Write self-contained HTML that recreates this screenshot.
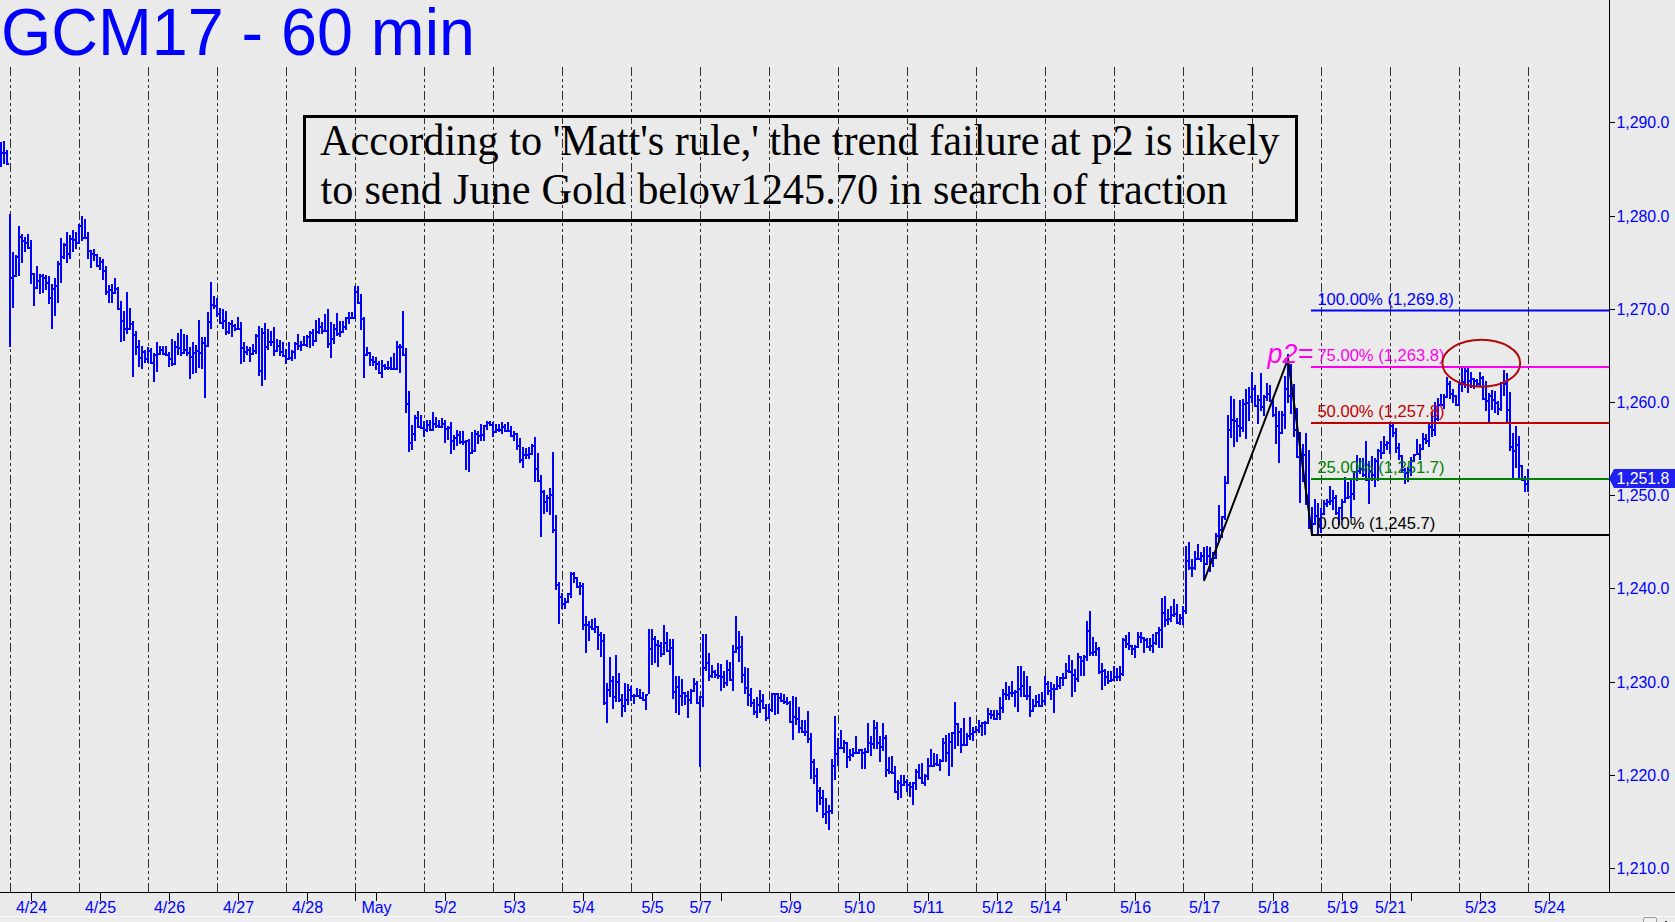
<!DOCTYPE html>
<html><head><meta charset="utf-8"><title>GCM17 - 60 min</title>
<style>
html,body{margin:0;padding:0;background:#eaeaea;}
body{width:1675px;height:922px;overflow:hidden;position:relative;font-family:"Liberation Sans",sans-serif;}
svg{position:absolute;left:0;top:0;display:block}
#title{position:absolute;left:0.5px;top:-5.2px;font-size:65.8px;line-height:74px;transform:scaleX(0.982);transform-origin:0 0;color:#0000ff;white-space:nowrap;letter-spacing:0px}
#note{position:absolute;left:303px;top:115px;width:989px;height:101px;border:3px solid #000;font-family:"Liberation Serif",serif;font-size:45.2px;line-height:49.3px;color:#000;white-space:nowrap}
#note div{position:absolute;left:13.5px;top:-2px;transform:scaleX(0.9364);transform-origin:0 0}
#strip{position:absolute;left:0;top:916px;width:1675px;height:6px;background:#ededed;border-top:1px solid #f8f8f8;box-sizing:border-box}
#sb{position:absolute;left:1643px;top:917px;width:14px;height:8px;border:1px solid #9a9a9a;border-radius:2px;background:#f2f2f2;box-sizing:border-box}
</style></head><body>
<svg width="1675" height="922" viewBox="0 0 1675 922" font-family="Liberation Sans, sans-serif" font-size="16.6">
<path d="M10.5 67V892M79.5 67V892M148.5 67V892M217.5 67V892M286.5 67V892M355.5 67V892M424.5 67V892M493.5 67V892M562.5 67V892M631.5 67V892M700.5 67V892M769.5 67V892M838.5 67V892M907.5 67V892M976.5 67V892M1045.5 67V892M1114.5 67V892M1183.5 67V892M1252.5 67V892M1321.5 67V892M1390.5 67V892M1459.5 67V892M1528.5 67V892" stroke="#303030" stroke-width="1" stroke-dasharray="9 3 3 3 3 3" fill="none" shape-rendering="crispEdges"/>
<path d="M0 142h2V167h-2zM2 152h1v2h-1zM3 141h2V164h-2zM5 152h1v2h-1zM6 150h2V165h-2zM8 163h1v2h-1zM9 214h2V347h-2zM11 277h1v2h-1zM12 252h2V308h-2zM14 275h1v2h-1zM15 255h2V277h-2zM17 256h1v2h-1zM18 226h2V276h-2zM20 236h1v2h-1zM21 234h2V263h-2zM23 240h1v2h-1zM24 237h2V252h-2zM26 242h1v2h-1zM27 234h2V249h-2zM29 247h1v2h-1zM30 240h2V284h-2zM32 273h1v2h-1zM33 273h2V306h-2zM35 287h1v2h-1zM36 266h2V289h-2zM38 280h1v2h-1zM39 274h2V294h-2zM41 275h1v2h-1zM42 274h2V293h-2zM44 277h1v2h-1zM45 275h2V290h-2zM47 282h1v2h-1zM48 276h2V304h-2zM50 297h1v2h-1zM51 284h2V329h-2zM53 288h1v2h-1zM54 278h2V316h-2zM56 285h1v2h-1zM57 261h2V303h-2zM59 263h1v2h-1zM60 238h2V283h-2zM62 256h1v2h-1zM63 243h2V259h-2zM65 244h1v2h-1zM66 232h2V263h-2zM68 253h1v2h-1zM69 235h2V259h-2zM71 238h1v2h-1zM72 230h2V252h-2zM74 239h1v2h-1zM75 232h2V249h-2zM77 242h1v2h-1zM78 224h2V244h-2zM80 225h1v2h-1zM81 216h2V241h-2zM83 237h1v2h-1zM84 219h2V239h-2zM86 237h1v2h-1zM87 232h2V259h-2zM89 250h1v2h-1zM90 250h2V268h-2zM92 253h1v2h-1zM93 249h2V261h-2zM95 254h1v2h-1zM96 254h2V267h-2zM98 265h1v2h-1zM99 257h2V270h-2zM101 261h1v2h-1zM102 259h2V280h-2zM104 270h1v2h-1zM105 266h2V295h-2zM107 291h1v2h-1zM108 285h2V303h-2zM110 289h1v2h-1zM111 284h2V303h-2zM113 292h1v2h-1zM114 278h2V294h-2zM116 288h1v2h-1zM117 287h2V310h-2zM119 308h1v2h-1zM120 301h2V342h-2zM122 320h1v2h-1zM123 311h2V341h-2zM125 328h1v2h-1zM126 292h2V334h-2zM128 328h1v2h-1zM129 308h2V330h-2zM131 323h1v2h-1zM132 321h2V377h-2zM134 334h1v2h-1zM135 331h2V355h-2zM137 346h1v2h-1zM138 340h2V367h-2zM140 357h1v2h-1zM141 346h2V369h-2zM143 351h1v2h-1zM144 350h2V363h-2zM146 358h1v2h-1zM147 347h2V363h-2zM149 350h1v2h-1zM150 348h2V364h-2zM152 362h1v2h-1zM153 353h2V382h-2zM155 354h1v2h-1zM156 342h2V372h-2zM158 353h1v2h-1zM159 346h2V355h-2zM161 349h1v2h-1zM162 346h2V355h-2zM164 353h1v2h-1zM165 346h2V356h-2zM167 354h1v2h-1zM168 352h2V367h-2zM170 358h1v2h-1zM171 339h2V366h-2zM173 363h1v2h-1zM174 341h2V365h-2zM176 346h1v2h-1zM177 333h2V355h-2zM179 347h1v2h-1zM180 329h2V356h-2zM182 352h1v2h-1zM183 334h2V354h-2zM185 349h1v2h-1zM186 335h2V356h-2zM188 352h1v2h-1zM189 347h2V379h-2zM191 356h1v2h-1zM192 342h2V374h-2zM194 352h1v2h-1zM195 345h2V373h-2zM197 350h1v2h-1zM198 320h2V368h-2zM200 352h1v2h-1zM201 337h2V369h-2zM203 342h1v2h-1zM204 337h2V398h-2zM206 345h1v2h-1zM207 312h2V347h-2zM209 321h1v2h-1zM210 282h2V329h-2zM212 304h1v2h-1zM213 296h2V309h-2zM215 305h1v2h-1zM216 298h2V317h-2zM218 313h1v2h-1zM219 308h2V324h-2zM221 322h1v2h-1zM222 309h2V329h-2zM224 320h1v2h-1zM225 311h2V335h-2zM227 331h1v2h-1zM228 322h2V334h-2zM230 323h1v2h-1zM231 320h2V337h-2zM233 325h1v2h-1zM234 324h2V331h-2zM236 328h1v2h-1zM237 317h2V330h-2zM239 328h1v2h-1zM240 322h2V364h-2zM242 347h1v2h-1zM243 342h2V362h-2zM245 351h1v2h-1zM246 346h2V355h-2zM248 349h1v2h-1zM249 347h2V362h-2zM251 353h1v2h-1zM252 344h2V355h-2zM254 350h1v2h-1zM255 334h2V354h-2zM257 335h1v2h-1zM258 326h2V376h-2zM260 370h1v2h-1zM261 328h2V386h-2zM263 332h1v2h-1zM264 323h2V380h-2zM266 346h1v2h-1zM267 329h2V350h-2zM269 341h1v2h-1zM270 331h2V346h-2zM272 341h1v2h-1zM273 327h2V356h-2zM275 350h1v2h-1zM276 339h2V352h-2zM278 345h1v2h-1zM279 340h2V356h-2zM281 351h1v2h-1zM282 342h2V357h-2zM284 355h1v2h-1zM285 349h2V364h-2zM287 358h1v2h-1zM288 342h2V360h-2zM290 357h1v2h-1zM291 350h2V361h-2zM293 351h1v2h-1zM294 342h2V359h-2zM296 343h1v2h-1zM297 334h2V350h-2zM299 345h1v2h-1zM300 341h2V351h-2zM302 344h1v2h-1zM303 336h2V346h-2zM305 344h1v2h-1zM306 335h2V347h-2zM308 336h1v2h-1zM309 331h2V348h-2zM311 332h1v2h-1zM312 329h2V346h-2zM314 340h1v2h-1zM315 320h2V342h-2zM317 331h1v2h-1zM318 318h2V334h-2zM320 326h1v2h-1zM321 322h2V334h-2zM323 330h1v2h-1zM324 314h2V332h-2zM326 330h1v2h-1zM327 309h2V348h-2zM329 343h1v2h-1zM330 322h2V358h-2zM332 338h1v2h-1zM333 324h2V344h-2zM335 328h1v2h-1zM336 313h2V336h-2zM338 333h1v2h-1zM339 321h2V337h-2zM341 331h1v2h-1zM342 321h2V333h-2zM344 326h1v2h-1zM345 317h2V330h-2zM347 317h1v2h-1zM348 312h2V324h-2zM350 317h1v2h-1zM351 312h2V319h-2zM353 317h1v2h-1zM354 286h2V319h-2zM356 291h1v2h-1zM357 286h2V304h-2zM359 302h1v2h-1zM360 294h2V330h-2zM362 318h1v2h-1zM363 317h2V378h-2zM365 354h1v2h-1zM366 347h2V356h-2zM368 352h1v2h-1zM369 352h2V366h-2zM371 359h1v2h-1zM372 356h2V366h-2zM374 361h1v2h-1zM375 357h2V370h-2zM377 363h1v2h-1zM378 361h2V374h-2zM380 372h1v2h-1zM381 360h2V378h-2zM383 365h1v2h-1zM384 364h2V370h-2zM386 367h1v2h-1zM387 361h2V370h-2zM389 367h1v2h-1zM390 357h2V370h-2zM392 368h1v2h-1zM393 353h2V370h-2zM395 368h1v2h-1zM396 341h2V370h-2zM398 346h1v2h-1zM399 344h2V373h-2zM401 346h1v2h-1zM402 311h2V356h-2zM404 354h1v2h-1zM405 348h2V413h-2zM407 403h1v2h-1zM408 391h2V452h-2zM410 442h1v2h-1zM411 425h2V450h-2zM413 433h1v2h-1zM414 415h2V441h-2zM416 417h1v2h-1zM417 411h2V428h-2zM419 426h1v2h-1zM420 415h2V429h-2zM422 427h1v2h-1zM423 421h2V437h-2zM425 429h1v2h-1zM426 420h2V432h-2zM428 424h1v2h-1zM429 420h2V431h-2zM431 429h1v2h-1zM432 412h2V431h-2zM434 423h1v2h-1zM435 417h2V428h-2zM437 425h1v2h-1zM438 420h2V428h-2zM440 426h1v2h-1zM441 418h2V428h-2zM443 423h1v2h-1zM444 420h2V443h-2zM446 428h1v2h-1zM447 426h2V440h-2zM449 427h1v2h-1zM450 422h2V454h-2zM452 440h1v2h-1zM453 435h2V450h-2zM455 437h1v2h-1zM456 430h2V446h-2zM458 434h1v2h-1zM459 431h2V444h-2zM461 441h1v2h-1zM462 431h2V445h-2zM464 441h1v2h-1zM465 440h2V470h-2zM467 440h1v2h-1zM468 439h2V472h-2zM470 452h1v2h-1zM471 432h2V454h-2zM473 450h1v2h-1zM474 430h2V452h-2zM476 433h1v2h-1zM477 431h2V444h-2zM479 435h1v2h-1zM480 424h2V441h-2zM482 434h1v2h-1zM483 425h2V441h-2zM485 425h1v2h-1zM486 421h2V430h-2zM488 422h1v2h-1zM489 421h2V426h-2zM491 424h1v2h-1zM492 422h2V437h-2zM494 431h1v2h-1zM495 424h2V433h-2zM497 429h1v2h-1zM498 424h2V432h-2zM500 429h1v2h-1zM501 422h2V434h-2zM503 426h1v2h-1zM504 424h2V432h-2zM506 430h1v2h-1zM507 422h2V432h-2zM509 430h1v2h-1zM510 426h2V437h-2zM512 435h1v2h-1zM513 431h2V441h-2zM515 433h1v2h-1zM516 433h2V450h-2zM518 445h1v2h-1zM519 438h2V463h-2zM521 459h1v2h-1zM522 447h2V468h-2zM524 454h1v2h-1zM525 448h2V459h-2zM527 454h1v2h-1zM528 447h2V459h-2zM530 453h1v2h-1zM531 444h2V455h-2zM533 445h1v2h-1zM534 437h2V482h-2zM536 468h1v2h-1zM537 453h2V482h-2zM539 480h1v2h-1zM540 475h2V537h-2zM542 491h1v2h-1zM543 490h2V514h-2zM545 501h1v2h-1zM546 495h2V512h-2zM548 497h1v2h-1zM549 488h2V515h-2zM551 494h1v2h-1zM552 452h2V533h-2zM554 529h1v2h-1zM555 515h2V590h-2zM557 584h1v2h-1zM558 582h2V624h-2zM560 596h1v2h-1zM561 593h2V609h-2zM563 603h1v2h-1zM564 598h2V609h-2zM566 601h1v2h-1zM567 593h2V603h-2zM569 593h1v2h-1zM570 572h2V598h-2zM572 573h1v2h-1zM573 572h2V583h-2zM575 577h1v2h-1zM576 577h2V588h-2zM578 586h1v2h-1zM579 582h2V595h-2zM581 585h1v2h-1zM582 583h2V630h-2zM584 624h1v2h-1zM585 616h2V653h-2zM587 624h1v2h-1zM588 621h2V641h-2zM590 626h1v2h-1zM591 619h2V630h-2zM593 628h1v2h-1zM594 618h2V633h-2zM596 626h1v2h-1zM597 626h2V650h-2zM599 634h1v2h-1zM600 632h2V657h-2zM602 640h1v2h-1zM603 634h2V705h-2zM605 702h1v2h-1zM606 683h2V723h-2zM608 689h1v2h-1zM609 657h2V697h-2zM611 680h1v2h-1zM612 676h2V709h-2zM614 696h1v2h-1zM615 655h2V702h-2zM617 681h1v2h-1zM618 673h2V702h-2zM620 699h1v2h-1zM621 694h2V717h-2zM623 705h1v2h-1zM624 683h2V712h-2zM626 699h1v2h-1zM627 684h2V705h-2zM629 689h1v2h-1zM630 686h2V701h-2zM632 695h1v2h-1zM633 694h2V704h-2zM635 695h1v2h-1zM636 688h2V697h-2zM638 695h1v2h-1zM639 689h2V699h-2zM641 697h1v2h-1zM642 692h2V701h-2zM644 699h1v2h-1zM645 694h2V710h-2zM647 694h1v2h-1zM648 629h2V694h-2zM650 648h1v2h-1zM651 629h2V665h-2zM653 638h1v2h-1zM654 636h2V663h-2zM656 644h1v2h-1zM657 640h2V667h-2zM659 645h1v2h-1zM660 642h2V657h-2zM662 653h1v2h-1zM663 625h2V655h-2zM665 642h1v2h-1zM666 632h2V652h-2zM668 650h1v2h-1zM669 639h2V665h-2zM671 647h1v2h-1zM672 639h2V699h-2zM674 691h1v2h-1zM675 676h2V713h-2zM677 686h1v2h-1zM678 676h2V715h-2zM680 695h1v2h-1zM681 679h2V706h-2zM683 692h1v2h-1zM684 692h2V705h-2zM686 695h1v2h-1zM687 691h2V718h-2zM689 699h1v2h-1zM690 689h2V704h-2zM692 690h1v2h-1zM693 678h2V692h-2zM695 683h1v2h-1zM696 681h2V704h-2zM698 702h1v2h-1zM699 696h2V767h-2zM701 696h1v2h-1zM702 634h2V707h-2zM704 667h1v2h-1zM705 634h2V671h-2zM707 662h1v2h-1zM708 653h2V681h-2zM710 675h1v2h-1zM711 665h2V678h-2zM713 671h1v2h-1zM714 670h2V678h-2zM716 674h1v2h-1zM717 663h2V679h-2zM719 675h1v2h-1zM720 664h2V691h-2zM722 676h1v2h-1zM723 671h2V688h-2zM725 682h1v2h-1zM726 660h2V686h-2zM728 669h1v2h-1zM729 662h2V681h-2zM731 679h1v2h-1zM732 645h2V691h-2zM734 651h1v2h-1zM735 616h2V653h-2zM737 647h1v2h-1zM738 631h2V662h-2zM740 646h1v2h-1zM741 636h2V683h-2zM743 674h1v2h-1zM744 667h2V694h-2zM746 687h1v2h-1zM747 668h2V706h-2zM749 694h1v2h-1zM750 688h2V707h-2zM752 702h1v2h-1zM753 699h2V715h-2zM755 711h1v2h-1zM756 697h2V718h-2zM758 704h1v2h-1zM759 690h2V713h-2zM761 700h1v2h-1zM762 694h2V709h-2zM764 707h1v2h-1zM765 704h2V721h-2zM767 717h1v2h-1zM768 704h2V719h-2zM770 709h1v2h-1zM771 693h2V712h-2zM773 693h1v2h-1zM774 693h2V715h-2zM776 693h1v2h-1zM777 693h2V714h-2zM779 697h1v2h-1zM780 693h2V702h-2zM782 700h1v2h-1zM783 694h2V704h-2zM785 701h1v2h-1zM786 697h2V705h-2zM788 702h1v2h-1zM789 701h2V723h-2zM791 721h1v2h-1zM792 696h2V740h-2zM794 716h1v2h-1zM795 697h2V725h-2zM797 718h1v2h-1zM798 707h2V733h-2zM800 727h1v2h-1zM801 720h2V733h-2zM803 731h1v2h-1zM804 720h2V736h-2zM806 731h1v2h-1zM807 711h2V743h-2zM809 738h1v2h-1zM810 733h2V779h-2zM812 761h1v2h-1zM813 759h2V784h-2zM815 775h1v2h-1zM816 768h2V812h-2zM818 790h1v2h-1zM819 787h2V805h-2zM821 797h1v2h-1zM822 790h2V818h-2zM824 813h1v2h-1zM825 798h2V824h-2zM827 811h1v2h-1zM828 805h2V830h-2zM830 810h1v2h-1zM831 759h2V814h-2zM833 765h1v2h-1zM834 716h2V780h-2zM836 753h1v2h-1zM837 738h2V766h-2zM839 747h1v2h-1zM840 730h2V749h-2zM842 747h1v2h-1zM843 740h2V753h-2zM845 742h1v2h-1zM846 742h2V768h-2zM848 756h1v2h-1zM849 749h2V761h-2zM851 754h1v2h-1zM852 748h2V757h-2zM854 752h1v2h-1zM855 736h2V754h-2zM857 752h1v2h-1zM858 749h2V754h-2zM860 749h1v2h-1zM861 749h2V769h-2zM863 752h1v2h-1zM864 748h2V769h-2zM866 751h1v2h-1zM867 723h2V753h-2zM869 742h1v2h-1zM870 736h2V756h-2zM872 743h1v2h-1zM873 720h2V749h-2zM875 727h1v2h-1zM876 722h2V749h-2zM878 742h1v2h-1zM879 736h2V762h-2zM881 746h1v2h-1zM882 723h2V751h-2zM884 737h1v2h-1zM885 735h2V777h-2zM887 769h1v2h-1zM888 757h2V774h-2zM890 771h1v2h-1zM891 756h2V774h-2zM893 772h1v2h-1zM894 766h2V793h-2zM896 791h1v2h-1zM897 780h2V800h-2zM899 782h1v2h-1zM900 775h2V798h-2zM902 784h1v2h-1zM903 775h2V786h-2zM905 781h1v2h-1zM906 779h2V792h-2zM908 784h1v2h-1zM909 782h2V797h-2zM911 786h1v2h-1zM912 782h2V805h-2zM914 782h1v2h-1zM915 769h2V790h-2zM917 771h1v2h-1zM918 764h2V779h-2zM920 777h1v2h-1zM921 763h2V784h-2zM923 782h1v2h-1zM924 774h2V786h-2zM926 775h1v2h-1zM927 758h2V780h-2zM929 765h1v2h-1zM930 749h2V767h-2zM932 765h1v2h-1zM933 753h2V767h-2zM935 763h1v2h-1zM936 754h2V766h-2zM938 764h1v2h-1zM939 759h2V771h-2zM941 760h1v2h-1zM942 738h2V762h-2zM944 742h1v2h-1zM945 735h2V762h-2zM947 752h1v2h-1zM948 733h2V776h-2zM950 741h1v2h-1zM951 732h2V767h-2zM953 732h1v2h-1zM954 702h2V749h-2zM956 723h1v2h-1zM957 723h2V746h-2zM959 731h1v2h-1zM960 728h2V753h-2zM962 744h1v2h-1zM963 718h2V746h-2zM965 744h1v2h-1zM966 733h2V746h-2zM968 735h1v2h-1zM969 717h2V740h-2zM971 733h1v2h-1zM972 727h2V741h-2zM974 731h1v2h-1zM975 726h2V733h-2zM977 729h1v2h-1zM978 720h2V733h-2zM980 725h1v2h-1zM981 722h2V736h-2zM983 722h1v2h-1zM984 721h2V735h-2zM986 722h1v2h-1zM987 708h2V724h-2zM989 713h1v2h-1zM990 710h2V719h-2zM992 714h1v2h-1zM993 710h2V720h-2zM995 718h1v2h-1zM996 710h2V720h-2zM998 713h1v2h-1zM999 697h2V720h-2zM1001 707h1v2h-1zM1002 689h2V713h-2zM1004 693h1v2h-1zM1005 682h2V700h-2zM1007 694h1v2h-1zM1008 686h2V700h-2zM1010 692h1v2h-1zM1011 681h2V697h-2zM1013 692h1v2h-1zM1014 690h2V707h-2zM1016 691h1v2h-1zM1017 666h2V712h-2zM1019 688h1v2h-1zM1020 666h2V697h-2zM1022 685h1v2h-1zM1023 671h2V697h-2zM1025 695h1v2h-1zM1026 676h2V700h-2zM1028 695h1v2h-1zM1029 686h2V717h-2zM1031 710h1v2h-1zM1032 699h2V712h-2zM1034 705h1v2h-1zM1035 695h2V707h-2zM1037 701h1v2h-1zM1038 694h2V707h-2zM1040 705h1v2h-1zM1041 692h2V707h-2zM1043 700h1v2h-1zM1044 676h2V705h-2zM1046 683h1v2h-1zM1047 681h2V695h-2zM1049 690h1v2h-1zM1050 682h2V700h-2zM1052 688h1v2h-1zM1053 684h2V713h-2zM1055 688h1v2h-1zM1056 676h2V690h-2zM1058 685h1v2h-1zM1059 677h2V689h-2zM1061 677h1v2h-1zM1062 673h2V686h-2zM1064 677h1v2h-1zM1065 663h2V679h-2zM1067 670h1v2h-1zM1068 655h2V673h-2zM1070 671h1v2h-1zM1071 660h2V697h-2zM1073 674h1v2h-1zM1074 669h2V692h-2zM1076 678h1v2h-1zM1077 653h2V682h-2zM1079 656h1v2h-1zM1080 656h2V676h-2zM1082 660h1v2h-1zM1083 655h2V676h-2zM1085 656h1v2h-1zM1086 621h2V661h-2zM1088 630h1v2h-1zM1089 611h2V656h-2zM1091 652h1v2h-1zM1092 637h2V656h-2zM1094 651h1v2h-1zM1095 642h2V656h-2zM1097 648h1v2h-1zM1098 647h2V674h-2zM1100 671h1v2h-1zM1101 663h2V690h-2zM1103 670h1v2h-1zM1104 669h2V686h-2zM1106 676h1v2h-1zM1107 671h2V684h-2zM1109 680h1v2h-1zM1110 671h2V682h-2zM1112 679h1v2h-1zM1113 666h2V681h-2zM1115 676h1v2h-1zM1116 668h2V681h-2zM1118 676h1v2h-1zM1119 666h2V681h-2zM1121 673h1v2h-1zM1122 638h2V676h-2zM1124 639h1v2h-1zM1125 635h2V648h-2zM1127 643h1v2h-1zM1128 632h2V650h-2zM1130 645h1v2h-1zM1131 645h2V655h-2zM1133 648h1v2h-1zM1134 645h2V658h-2zM1136 646h1v2h-1zM1137 632h2V648h-2zM1139 636h1v2h-1zM1140 632h2V643h-2zM1142 637h1v2h-1zM1143 637h2V653h-2zM1145 639h1v2h-1zM1146 638h2V648h-2zM1148 646h1v2h-1zM1149 638h2V651h-2zM1151 645h1v2h-1zM1152 634h2V653h-2zM1154 642h1v2h-1zM1155 632h2V645h-2zM1157 632h1v2h-1zM1158 627h2V648h-2zM1160 629h1v2h-1zM1161 598h2V648h-2zM1163 612h1v2h-1zM1164 596h2V627h-2zM1166 619h1v2h-1zM1167 609h2V625h-2zM1169 618h1v2h-1zM1170 606h2V622h-2zM1172 614h1v2h-1zM1173 599h2V617h-2zM1175 613h1v2h-1zM1176 604h2V624h-2zM1178 622h1v2h-1zM1179 614h2V625h-2zM1181 617h1v2h-1zM1182 606h2V625h-2zM1184 610h1v2h-1zM1185 546h2V614h-2zM1187 560h1v2h-1zM1188 542h2V570h-2zM1190 567h1v2h-1zM1191 559h2V577h-2zM1193 567h1v2h-1zM1194 551h2V570h-2zM1196 558h1v2h-1zM1197 544h2V560h-2zM1199 558h1v2h-1zM1200 552h2V562h-2zM1202 555h1v2h-1zM1203 547h2V580h-2zM1205 563h1v2h-1zM1206 546h2V565h-2zM1208 555h1v2h-1zM1209 547h2V572h-2zM1211 558h1v2h-1zM1212 552h2V567h-2zM1214 557h1v2h-1zM1215 533h2V559h-2zM1217 535h1v2h-1zM1218 505h2V541h-2zM1220 529h1v2h-1zM1221 516h2V538h-2zM1223 516h1v2h-1zM1224 476h2V520h-2zM1226 482h1v2h-1zM1227 415h2V484h-2zM1229 429h1v2h-1zM1230 396h2V438h-2zM1232 419h1v2h-1zM1233 399h2V447h-2zM1235 420h1v2h-1zM1236 418h2V442h-2zM1238 425h1v2h-1zM1239 400h2V437h-2zM1241 427h1v2h-1zM1242 399h2V432h-2zM1244 403h1v2h-1zM1245 389h2V439h-2zM1247 402h1v2h-1zM1248 387h2V421h-2zM1250 396h1v2h-1zM1251 372h2V403h-2zM1253 388h1v2h-1zM1254 385h2V407h-2zM1256 405h1v2h-1zM1257 395h2V424h-2zM1259 399h1v2h-1zM1260 373h2V411h-2zM1262 406h1v2h-1zM1263 395h2V416h-2zM1265 396h1v2h-1zM1266 383h2V401h-2zM1268 393h1v2h-1zM1269 385h2V402h-2zM1271 400h1v2h-1zM1272 399h2V417h-2zM1274 414h1v2h-1zM1275 407h2V444h-2zM1277 425h1v2h-1zM1278 411h2V463h-2zM1280 432h1v2h-1zM1281 411h2V434h-2zM1283 414h1v2h-1zM1284 376h2V429h-2zM1286 388h1v2h-1zM1287 354h2V403h-2zM1289 395h1v2h-1zM1290 364h2V414h-2zM1292 389h1v2h-1zM1293 384h2V437h-2zM1295 429h1v2h-1zM1296 408h2V458h-2zM1298 456h1v2h-1zM1299 432h2V503h-2zM1301 458h1v2h-1zM1302 444h2V482h-2zM1304 454h1v2h-1zM1305 433h2V505h-2zM1307 495h1v2h-1zM1308 450h2V529h-2zM1310 520h1v2h-1zM1311 507h2V536h-2zM1313 523h1v2h-1zM1314 499h2V525h-2zM1316 515h1v2h-1zM1317 503h2V534h-2zM1319 518h1v2h-1zM1320 508h2V533h-2zM1322 513h1v2h-1zM1323 500h2V515h-2zM1325 503h1v2h-1zM1326 499h2V507h-2zM1328 501h1v2h-1zM1329 486h2V505h-2zM1331 500h1v2h-1zM1332 490h2V510h-2zM1334 497h1v2h-1zM1335 495h2V515h-2zM1337 512h1v2h-1zM1338 507h2V525h-2zM1340 507h1v2h-1zM1341 499h2V520h-2zM1343 501h1v2h-1zM1344 477h2V503h-2zM1346 497h1v2h-1zM1347 482h2V499h-2zM1349 496h1v2h-1zM1350 479h2V518h-2zM1352 493h1v2h-1zM1353 471h2V500h-2zM1355 471h1v2h-1zM1356 455h2V481h-2zM1358 470h1v2h-1zM1359 458h2V474h-2zM1361 468h1v2h-1zM1362 458h2V477h-2zM1364 474h1v2h-1zM1365 441h2V481h-2zM1367 479h1v2h-1zM1368 461h2V504h-2zM1370 470h1v2h-1zM1371 456h2V481h-2zM1373 474h1v2h-1zM1374 458h2V487h-2zM1376 460h1v2h-1zM1377 449h2V481h-2zM1379 450h1v2h-1zM1380 441h2V459h-2zM1382 452h1v2h-1zM1383 436h2V454h-2zM1385 444h1v2h-1zM1386 441h2V450h-2zM1388 442h1v2h-1zM1389 424h2V454h-2zM1391 425h1v2h-1zM1392 424h2V437h-2zM1394 432h1v2h-1zM1395 428h2V453h-2zM1397 447h1v2h-1zM1398 443h2V460h-2zM1400 455h1v2h-1zM1401 455h2V473h-2zM1403 469h1v2h-1zM1404 468h2V484h-2zM1406 472h1v2h-1zM1407 467h2V482h-2zM1409 469h1v2h-1zM1410 457h2V476h-2zM1412 460h1v2h-1zM1413 454h2V462h-2zM1415 454h1v2h-1zM1416 439h2V455h-2zM1418 453h1v2h-1zM1419 444h2V460h-2zM1421 448h1v2h-1zM1422 433h2V450h-2zM1424 438h1v2h-1zM1425 434h2V444h-2zM1427 440h1v2h-1zM1428 424h2V447h-2zM1430 426h1v2h-1zM1431 412h2V437h-2zM1433 429h1v2h-1zM1434 402h2V436h-2zM1436 418h1v2h-1zM1437 398h2V421h-2zM1439 404h1v2h-1zM1440 394h2V406h-2zM1442 404h1v2h-1zM1443 394h2V409h-2zM1445 396h1v2h-1zM1446 377h2V398h-2zM1448 383h1v2h-1zM1449 381h2V399h-2zM1451 393h1v2h-1zM1452 389h2V403h-2zM1454 395h1v2h-1zM1455 395h2V406h-2zM1457 404h1v2h-1zM1458 381h2V406h-2zM1460 383h1v2h-1zM1461 368h2V392h-2zM1463 381h1v2h-1zM1464 368h2V388h-2zM1466 370h1v2h-1zM1467 368h2V393h-2zM1469 380h1v2h-1zM1470 372h2V388h-2zM1472 378h1v2h-1zM1473 378h2V389h-2zM1475 380h1v2h-1zM1476 379h2V387h-2zM1478 383h1v2h-1zM1479 372h2V387h-2zM1481 377h1v2h-1zM1482 376h2V400h-2zM1484 398h1v2h-1zM1485 381h2V411h-2zM1487 400h1v2h-1zM1488 393h2V422h-2zM1490 395h1v2h-1zM1491 390h2V410h-2zM1493 399h1v2h-1zM1494 391h2V413h-2zM1496 402h1v2h-1zM1497 401h2V415h-2zM1499 408h1v2h-1zM1500 382h2V411h-2zM1502 382h1v2h-1zM1503 370h2V396h-2zM1505 383h1v2h-1zM1506 373h2V422h-2zM1508 409h1v2h-1zM1509 392h2V451h-2zM1511 446h1v2h-1zM1512 433h2V478h-2zM1514 450h1v2h-1zM1515 426h2V468h-2zM1517 444h1v2h-1zM1518 436h2V478h-2zM1520 465h1v2h-1zM1521 465h2V481h-2zM1523 479h1v2h-1zM1524 476h2V492h-2zM1526 483h1v2h-1zM1527 469h2V492h-2z" fill="#0000ff" shape-rendering="crispEdges"/>
<path d="M1204 581L1288 359L1312 535H1610" stroke="#000" stroke-width="2" fill="none" stroke-linejoin="miter"/>
<path d="M1311 310.5H1610" stroke="#0000ff" stroke-width="2" fill="none"/><text x="1317.4" y="304.5" fill="#0000ff" textLength="136.37" lengthAdjust="spacingAndGlyphs">100.00% (1,269.8)</text><path d="M1311 367H1610" stroke="#ff00ee" stroke-width="2" fill="none"/><text x="1317.4" y="361.0" fill="#ff00ee" textLength="127.15" lengthAdjust="spacingAndGlyphs">75.00% (1,263.8)</text><path d="M1311 423H1610" stroke="#c00000" stroke-width="2" fill="none"/><text x="1317.4" y="417.0" fill="#c00000" textLength="127.15" lengthAdjust="spacingAndGlyphs">50.00% (1,257.8)</text><path d="M1311 479H1610" stroke="#008000" stroke-width="2" fill="none"/><text x="1317.4" y="473.0" fill="#008000" textLength="127.15" lengthAdjust="spacingAndGlyphs">25.00% (1,251.7)</text><path d="M1311 535H1610" stroke="#000000" stroke-width="2" fill="none"/><text x="1317.4" y="529.0" fill="#000000" textLength="117.94" lengthAdjust="spacingAndGlyphs">0.00% (1,245.7)</text>
<ellipse cx="1481.3" cy="363.3" rx="38.9" ry="23.5" fill="none" stroke="#b00808" stroke-width="2"/>
<text x="1267.6" y="362.8" font-size="27.6" font-style="italic" fill="#ff00ee" textLength="45.6" lengthAdjust="spacingAndGlyphs">p2=</text>
<path d="M0 892.5H1675M1609.5 0V892" stroke="#000" stroke-width="1" fill="none" shape-rendering="crispEdges"/>
<path d="M31.5 892v9M100.5 892v9M169.5 892v9M238.5 892v9M307.5 892v9M376.5 892v9M445.5 892v9M514.5 892v9M583.5 892v9M652.5 892v9M790.5 892v9M859.5 892v9M928.5 892v9M997.5 892v9M1135.5 892v9M1204.5 892v9M1273.5 892v9M1342.5 892v9M1480.5 892v9M1549.5 892v9M700.5 892v9M721.5 892v9M1045.5 892v9M1066.5 892v9M1390.5 892v9M1411.5 892v9M355.5 892v9M1610 868.5h5M1610 775.5h5M1610 682.5h5M1610 588.5h5M1610 495.5h5M1610 402.5h5M1610 309.5h5M1610 216.5h5M1610 122.5h5" stroke="#000" stroke-width="1" fill="none" shape-rendering="crispEdges"/>
<g fill="#0000ff"><text x="15.93" y="913" textLength="31.14" lengthAdjust="spacingAndGlyphs">4/24</text><text x="84.93" y="913" textLength="31.14" lengthAdjust="spacingAndGlyphs">4/25</text><text x="153.93" y="913" textLength="31.14" lengthAdjust="spacingAndGlyphs">4/26</text><text x="222.93" y="913" textLength="31.14" lengthAdjust="spacingAndGlyphs">4/27</text><text x="291.93" y="913" textLength="31.14" lengthAdjust="spacingAndGlyphs">4/28</text><text x="361.39" y="913" textLength="30.22" lengthAdjust="spacingAndGlyphs">May</text><text x="434.38" y="913" textLength="22.24" lengthAdjust="spacingAndGlyphs">5/2</text><text x="503.38" y="913" textLength="22.24" lengthAdjust="spacingAndGlyphs">5/3</text><text x="572.38" y="913" textLength="22.24" lengthAdjust="spacingAndGlyphs">5/4</text><text x="641.38" y="913" textLength="22.24" lengthAdjust="spacingAndGlyphs">5/5</text><text x="779.38" y="913" textLength="22.24" lengthAdjust="spacingAndGlyphs">5/9</text><text x="843.93" y="913" textLength="31.14" lengthAdjust="spacingAndGlyphs">5/10</text><text x="912.93" y="913" textLength="31.14" lengthAdjust="spacingAndGlyphs">5/11</text><text x="981.93" y="913" textLength="31.14" lengthAdjust="spacingAndGlyphs">5/12</text><text x="1119.93" y="913" textLength="31.14" lengthAdjust="spacingAndGlyphs">5/16</text><text x="1188.93" y="913" textLength="31.14" lengthAdjust="spacingAndGlyphs">5/17</text><text x="1257.93" y="913" textLength="31.14" lengthAdjust="spacingAndGlyphs">5/18</text><text x="1326.93" y="913" textLength="31.14" lengthAdjust="spacingAndGlyphs">5/19</text><text x="1464.93" y="913" textLength="31.14" lengthAdjust="spacingAndGlyphs">5/23</text><text x="1533.93" y="913" textLength="31.14" lengthAdjust="spacingAndGlyphs">5/24</text><text x="689.38" y="913" textLength="22.24" lengthAdjust="spacingAndGlyphs">5/7</text><text x="1029.93" y="913" textLength="31.14" lengthAdjust="spacingAndGlyphs">5/14</text><text x="1374.93" y="913" textLength="31.14" lengthAdjust="spacingAndGlyphs">5/21</text><text x="1616.4" textLength="53.00" lengthAdjust="spacingAndGlyphs" y="873.9">1,210.0</text><text x="1616.4" textLength="53.00" lengthAdjust="spacingAndGlyphs" y="780.7">1,220.0</text><text x="1616.4" textLength="53.00" lengthAdjust="spacingAndGlyphs" y="687.5">1,230.0</text><text x="1616.4" textLength="53.00" lengthAdjust="spacingAndGlyphs" y="594.3">1,240.0</text><text x="1616.4" textLength="53.00" lengthAdjust="spacingAndGlyphs" y="501.1">1,250.0</text><text x="1616.4" textLength="53.00" lengthAdjust="spacingAndGlyphs" y="407.9">1,260.0</text><text x="1616.4" textLength="53.00" lengthAdjust="spacingAndGlyphs" y="314.7">1,270.0</text><text x="1616.4" textLength="53.00" lengthAdjust="spacingAndGlyphs" y="221.5">1,280.0</text><text x="1616.4" textLength="53.00" lengthAdjust="spacingAndGlyphs" y="128.3">1,290.0</text></g>
<path d="M1609 478.5L1614 469H1675V488H1614Z" fill="#2020f0"/>
<text x="1616.4" textLength="53.00" lengthAdjust="spacingAndGlyphs" y="483.8" fill="#ffffff">1,251.8</text>
</svg>
<div id="title">GCM17 - 60 min</div>
<div id="note"><div>According to 'Matt's rule,' the trend failure at p2 is likely<br><span style="word-spacing:0.45px;margin-left:0.5px">to send June Gold below1245.70 in search of traction</span></div></div>
<div id="strip"></div><div id="sb"></div><div style="position:absolute;left:1665px;top:921px;width:2px;height:1px;background:#222"></div>
</body></html>
